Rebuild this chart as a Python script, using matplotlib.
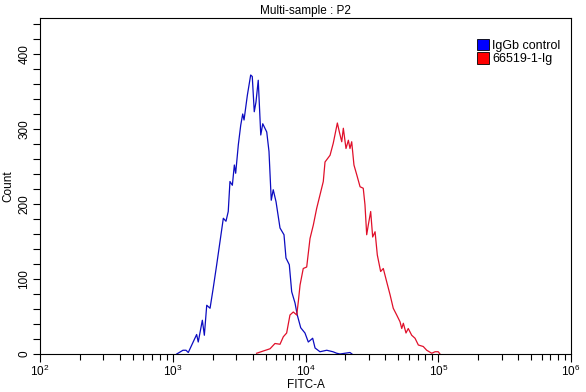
import matplotlib
matplotlib.use("Agg")
import matplotlib.pyplot as plt
from matplotlib.patches import Patch
from matplotlib.ticker import LogLocator, FixedLocator, MultipleLocator, NullFormatter
import numpy as np

plt.rcParams['font.family'] = ['Liberation Sans', 'DejaVu Sans']

# log10(FITC-A) positions and counts
ctrl_log = [3.030, 3.077, 3.100, 3.117, 3.180, 3.192, 3.223, 3.238, 3.256, 3.281,
            3.305, 3.331, 3.356, 3.381, 3.401, 3.418, 3.431, 3.449, 3.464, 3.474,
            3.494, 3.512, 3.527, 3.537, 3.562, 3.587, 3.599, 3.614, 3.627, 3.644,
            3.663, 3.678, 3.708, 3.725, 3.742, 3.757, 3.778, 3.808, 3.838, 3.853,
            3.878, 3.896, 3.921, 3.938, 3.964, 3.996, 4.021, 4.054, 4.072, 4.109,
            4.160, 4.207, 4.235, 4.260, 4.335, 4.350]
ctrl_cnt = [0, 5, 5, 2, 26, 16, 45, 25, 65, 61,
            88, 119, 150, 181, 177, 190, 230, 225, 252, 241,
            279, 305, 320, 312, 345, 372, 370, 323, 336, 365,
            292, 307, 296, 270, 205, 219, 203, 168, 159, 128,
            119, 83, 68, 52, 35, 28, 16, 21, 8, 3,
            5, 3, 1, 0, 2, 0]

ab_log = [3.632, 3.682, 3.733, 3.770, 3.808, 3.833, 3.858, 3.883, 3.908, 3.934,
          3.946, 3.959, 3.983, 4.009, 4.034, 4.059, 4.084, 4.109, 4.134, 4.147,
          4.185, 4.209, 4.240, 4.255, 4.273, 4.285, 4.305, 4.323, 4.335, 4.348,
          4.365, 4.386, 4.411, 4.435, 4.448, 4.461, 4.473, 4.491, 4.506, 4.524,
          4.541, 4.566, 4.586, 4.612, 4.637, 4.661, 4.687, 4.712, 4.725, 4.737,
          4.757, 4.774, 4.800, 4.825, 4.850, 4.887, 4.913, 4.951, 4.976, 5.000,
          5.013]
ab_cnt = [1, 4, 7, 14, 13, 23, 28, 52, 56, 52,
          70, 92, 114, 116, 154, 172, 194, 212, 230, 256,
          265, 281, 308, 296, 283, 301, 274, 285, 274, 283,
          252, 239, 223, 221, 199, 159, 172, 190, 156, 163,
          132, 110, 114, 96, 79, 61, 52, 43, 34, 41,
          28, 34, 25, 21, 12, 10, 5, 1, 3, 3,
          0]

series_labels = ["IgGb control", "66519-1-Ig"]
title = "Multi-sample : P2"

fig = plt.figure(figsize=(5.86, 3.92), dpi=100)
ax = fig.add_axes([40/586, 1-354/392, (571-40)/586, (354-18)/392])

blue = "#0C0CC0"
red = "#E0102A"
ax.plot(10**np.array(ctrl_log), ctrl_cnt, color=blue, lw=0.9)
ax.plot(10**np.array(ab_log), ab_cnt, color=red, lw=0.9)

ax.set_xscale('log')
ax.set_xlim(1e2, 1e6)
ax.set_ylim(0, 448)

ax.xaxis.set_major_locator(LogLocator(base=10, numticks=10))
ax.xaxis.set_minor_locator(LogLocator(base=10, subs=np.arange(2, 10), numticks=20))
ax.xaxis.set_minor_formatter(NullFormatter())
ax.yaxis.set_major_locator(MultipleLocator(100))
ax.yaxis.set_minor_locator(MultipleLocator(20))

ax.tick_params(axis='x', which='major', labelsize=8.5, direction='out', length=6, width=0.8, pad=1)
ax.tick_params(axis='x', which='minor', direction='out', length=4, width=0.8)
ax.tick_params(axis='y', which='major', labelsize=8.5, direction='out', length=5, width=0.8, pad=2)
ax.tick_params(axis='y', which='minor', direction='out', length=5, width=0.8)
for lbl in ax.get_yticklabels():
    lbl.set_rotation(90)
    lbl.set_va('center')

for sp in ax.spines.values():
    sp.set_linewidth(0.8)

ax.set_title(title, fontsize=8.5, pad=3)
ax.set_xlabel("FITC-A", fontsize=8.5)
ax.xaxis.set_label_coords(0.5, -0.074)
ax.set_ylabel("Count", fontsize=8.5, labelpad=3)

handles = [Patch(facecolor='#0000FF', edgecolor='black', lw=0.6),
           Patch(facecolor='#FF0000', edgecolor='black', lw=0.6)]
ax.legend(handles, series_labels, loc='upper right', bbox_to_anchor=(0.985, 0.945),
          frameon=False, fontsize=9, handlelength=0.9, handleheight=1.0,
          handletextpad=0.3, labelspacing=0.05, borderpad=0.1, borderaxespad=0.1)

fig.savefig("out.png", dpi=100)
